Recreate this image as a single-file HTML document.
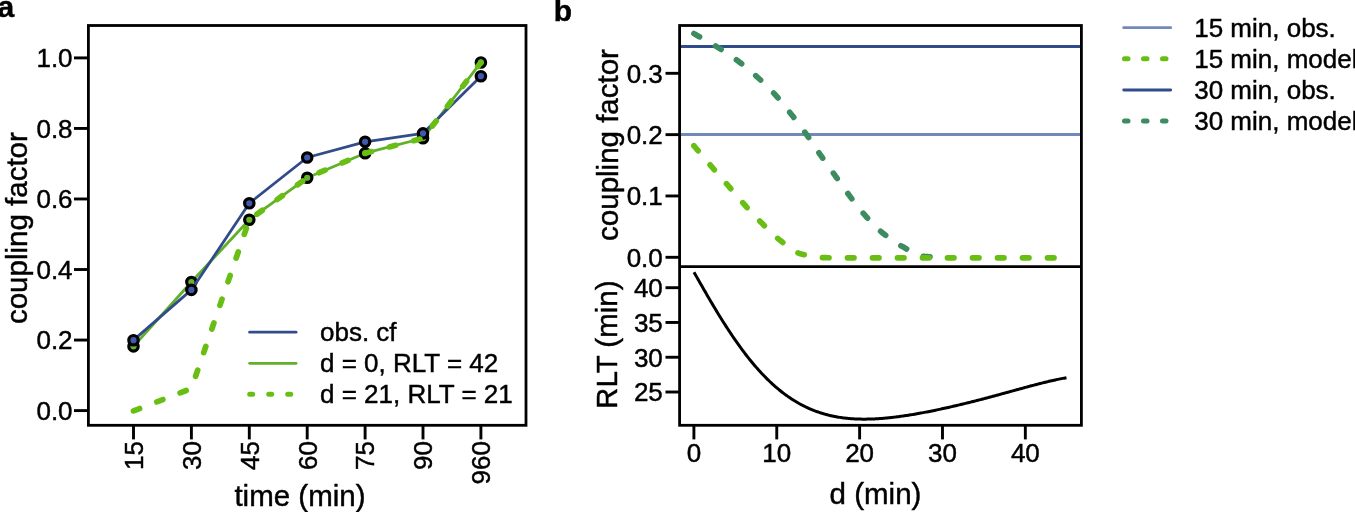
<!DOCTYPE html>
<html><head><meta charset="utf-8"><style>
html,body{margin:0;padding:0;background:#fff;}
body{width:1355px;height:512px;overflow:hidden;}
svg{display:block;will-change:transform;}
text{font-family:"Liberation Sans", sans-serif;fill:#000;stroke:#000;stroke-width:0.45px;}
</style></head><body>
<svg width="1355" height="512" viewBox="0 0 1355 512">
<text x="-2.6" y="17" font-size="30" font-weight="bold">a</text>
<text x="553.8" y="20.7" font-size="30" font-weight="bold">b</text>
<rect x="88.4" y="25.5" width="437.6" height="399.8" fill="none" stroke="#000" stroke-width="2.8"/>
<line x1="74" y1="57.90" x2="88.4" y2="57.90" stroke="#000" stroke-width="2.9"/>
<text x="72.6" y="67.00" font-size="26" text-anchor="end">1.0</text>
<line x1="74" y1="128.44" x2="88.4" y2="128.44" stroke="#000" stroke-width="2.9"/>
<text x="72.6" y="137.54" font-size="26" text-anchor="end">0.8</text>
<line x1="74" y1="198.98" x2="88.4" y2="198.98" stroke="#000" stroke-width="2.9"/>
<text x="72.6" y="208.08" font-size="26" text-anchor="end">0.6</text>
<line x1="74" y1="269.52" x2="88.4" y2="269.52" stroke="#000" stroke-width="2.9"/>
<text x="72.6" y="278.62" font-size="26" text-anchor="end">0.4</text>
<line x1="74" y1="340.06" x2="88.4" y2="340.06" stroke="#000" stroke-width="2.9"/>
<text x="72.6" y="349.16" font-size="26" text-anchor="end">0.2</text>
<line x1="74" y1="410.60" x2="88.4" y2="410.60" stroke="#000" stroke-width="2.9"/>
<text x="72.6" y="419.70" font-size="26" text-anchor="end">0.0</text>
<line x1="133.5" y1="425.3" x2="133.5" y2="439.4" stroke="#000" stroke-width="2.9"/>
<text transform="translate(142.80,441) rotate(-90)" font-size="26" text-anchor="end">15</text>
<line x1="191.4" y1="425.3" x2="191.4" y2="439.4" stroke="#000" stroke-width="2.9"/>
<text transform="translate(200.70,441) rotate(-90)" font-size="26" text-anchor="end">30</text>
<line x1="249.3" y1="425.3" x2="249.3" y2="439.4" stroke="#000" stroke-width="2.9"/>
<text transform="translate(258.60,441) rotate(-90)" font-size="26" text-anchor="end">45</text>
<line x1="307.2" y1="425.3" x2="307.2" y2="439.4" stroke="#000" stroke-width="2.9"/>
<text transform="translate(316.50,441) rotate(-90)" font-size="26" text-anchor="end">60</text>
<line x1="365.1" y1="425.3" x2="365.1" y2="439.4" stroke="#000" stroke-width="2.9"/>
<text transform="translate(374.40,441) rotate(-90)" font-size="26" text-anchor="end">75</text>
<line x1="423.0" y1="425.3" x2="423.0" y2="439.4" stroke="#000" stroke-width="2.9"/>
<text transform="translate(432.30,441) rotate(-90)" font-size="26" text-anchor="end">90</text>
<line x1="480.9" y1="425.3" x2="480.9" y2="439.4" stroke="#000" stroke-width="2.9"/>
<text transform="translate(490.20,441) rotate(-90)" font-size="26" text-anchor="end">960</text>
<text x="234.4" y="506" font-size="29.5">time (min)</text>
<text transform="translate(26.8,228.1) rotate(-90)" font-size="29.5" text-anchor="middle">coupling factor</text>
<path d="M133.50,346.36 L191.40,281.99 L249.30,219.74 L307.20,177.77 L365.10,153.22 L423.00,138.26 L480.90,62.43" fill="none" stroke="#61b02a" stroke-width="2.8" stroke-linejoin="round" stroke-linecap="round"/>
<circle cx="133.5" cy="346.36" r="4.7" fill="#64b52c" stroke="#000" stroke-width="3.2"/>
<circle cx="191.4" cy="281.99" r="4.7" fill="#64b52c" stroke="#000" stroke-width="3.2"/>
<circle cx="249.3" cy="219.74" r="4.7" fill="#64b52c" stroke="#000" stroke-width="3.2"/>
<circle cx="307.2" cy="177.77" r="4.7" fill="#64b52c" stroke="#000" stroke-width="3.2"/>
<circle cx="365.1" cy="153.22" r="4.7" fill="#64b52c" stroke="#000" stroke-width="3.2"/>
<circle cx="423.0" cy="138.26" r="4.7" fill="#64b52c" stroke="#000" stroke-width="3.2"/>
<circle cx="480.9" cy="62.43" r="4.7" fill="#64b52c" stroke="#000" stroke-width="3.2"/>
<path d="M133.50,340.18 L191.40,289.92 L249.30,203.30 L307.20,157.49 L365.10,141.79 L423.00,133.33 L480.90,76.19" fill="none" stroke="#324b8a" stroke-width="2.8" stroke-linejoin="round" stroke-linecap="round"/>
<circle cx="133.5" cy="340.18" r="4.7" fill="#4159ad" stroke="#000" stroke-width="3.2"/>
<circle cx="191.4" cy="289.92" r="4.7" fill="#4159ad" stroke="#000" stroke-width="3.2"/>
<circle cx="249.3" cy="203.30" r="4.7" fill="#4159ad" stroke="#000" stroke-width="3.2"/>
<circle cx="307.2" cy="157.49" r="4.7" fill="#4159ad" stroke="#000" stroke-width="3.2"/>
<circle cx="365.1" cy="141.79" r="4.7" fill="#4159ad" stroke="#000" stroke-width="3.2"/>
<circle cx="423.0" cy="133.33" r="4.7" fill="#4159ad" stroke="#000" stroke-width="3.2"/>
<circle cx="480.9" cy="76.19" r="4.7" fill="#4159ad" stroke="#000" stroke-width="3.2"/>
<path d="M133.50,410.90 L191.40,388.50 L249.30,219.74 L307.20,177.77 L365.10,153.22 L423.00,138.26 L480.90,62.43" fill="none" stroke="#68be12" stroke-width="5.7" stroke-dasharray="6.5 18.5" stroke-linejoin="round" stroke-linecap="round"/>
<line x1="249.6" y1="332.2" x2="296.1" y2="332.2" stroke="#324b8a" stroke-width="2.7" stroke-linecap="round"/>
<line x1="249.6" y1="363.3" x2="296.1" y2="363.3" stroke="#61b02a" stroke-width="2.7" stroke-linecap="round"/>
<line x1="249.7" y1="394.3" x2="297.4" y2="394.3" stroke="#68be12" stroke-width="5" stroke-dasharray="3 16" stroke-linecap="round"/>
<text x="320" y="341" font-size="26">obs. cf</text>
<text x="320" y="372" font-size="26">d = 0, RLT = 42</text>
<text x="320" y="403" font-size="26">d = 21, RLT = 21</text>
<line x1="679.6" y1="134.5" x2="1081.4" y2="134.5" stroke="#7289bb" stroke-width="2.8"/>
<line x1="679.6" y1="46.5" x2="1081.4" y2="46.5" stroke="#324b8a" stroke-width="2.8"/>
<path d="M693.90,33.60 L694.72,34.07 L695.55,34.55 L696.37,35.01 L697.19,35.48 L698.02,35.95 L698.84,36.41 L699.66,36.88 L700.48,37.34 L701.31,37.80 L702.13,38.26 L702.95,38.72 L703.78,39.19 L704.60,39.65 L705.42,40.11 L706.25,40.58 L707.07,41.04 L707.89,41.51 L708.72,41.98 L709.54,42.45 L710.36,42.92 L711.18,43.40 L712.01,43.88 L712.83,44.36 L713.65,44.85 L714.48,45.34 L715.30,45.83 L716.12,46.33 L716.95,46.84 L717.77,47.34 L718.59,47.86 L719.42,48.37 L720.24,48.89 L721.06,49.42 L721.88,49.94 L722.71,50.47 L723.53,51.00 L724.35,51.53 L725.18,52.07 L726.00,52.61 L726.82,53.16 L727.65,53.71 L728.47,54.26 L729.29,54.82 L730.12,55.38 L730.94,55.95 L731.76,56.52 L732.58,57.09 L733.41,57.67 L734.23,58.26 L735.05,58.85 L735.88,59.44 L736.70,60.04 L737.52,60.65 L738.35,61.26 L739.17,61.88 L739.99,62.50 L740.82,63.13 L741.64,63.77 L742.46,64.42 L743.28,65.07 L744.11,65.72 L744.93,66.39 L745.75,67.06 L746.58,67.73 L747.40,68.42 L748.22,69.10 L749.05,69.80 L749.87,70.49 L750.69,71.20 L751.52,71.91 L752.34,72.62 L753.16,73.34 L753.98,74.07 L754.81,74.79 L755.63,75.53 L756.45,76.27 L757.28,77.01 L758.10,77.75 L758.92,78.51 L759.75,79.26 L760.57,80.02 L761.39,80.79 L762.22,81.56 L763.04,82.34 L763.86,83.13 L764.68,83.92 L765.51,84.72 L766.33,85.53 L767.15,86.34 L767.98,87.16 L768.80,87.99 L769.62,88.82 L770.45,89.67 L771.27,90.52 L772.09,91.38 L772.92,92.25 L773.74,93.13 L774.56,94.01 L775.38,94.91 L776.21,95.82 L777.03,96.75 L777.85,97.69 L778.68,98.65 L779.50,99.61 L780.32,100.59 L781.15,101.58 L781.97,102.58 L782.79,103.58 L783.62,104.60 L784.44,105.62 L785.26,106.65 L786.08,107.68 L786.91,108.72 L787.73,109.76 L788.55,110.80 L789.38,111.84 L790.20,112.89 L791.02,113.93 L791.85,114.97 L792.67,116.02 L793.49,117.08 L794.32,118.14 L795.14,119.20 L795.96,120.27 L796.78,121.35 L797.61,122.43 L798.43,123.51 L799.25,124.60 L800.08,125.70 L800.90,126.80 L801.72,127.91 L802.55,129.03 L803.37,130.15 L804.19,131.28 L805.02,132.41 L805.84,133.55 L806.66,134.71 L807.48,135.88 L808.31,137.06 L809.13,138.25 L809.95,139.46 L810.78,140.67 L811.60,141.89 L812.42,143.11 L813.25,144.34 L814.07,145.57 L814.89,146.79 L815.72,148.02 L816.54,149.24 L817.36,150.46 L818.18,151.67 L819.01,152.87 L819.83,154.06 L820.65,155.24 L821.48,156.41 L822.30,157.58 L823.12,158.75 L823.95,159.91 L824.77,161.07 L825.59,162.23 L826.42,163.38 L827.24,164.54 L828.06,165.69 L828.88,166.84 L829.71,167.99 L830.53,169.14 L831.35,170.29 L832.18,171.44 L833.00,172.60 L833.82,173.75 L834.65,174.91 L835.47,176.07 L836.29,177.24 L837.12,178.41 L837.94,179.59 L838.76,180.76 L839.58,181.93 L840.41,183.11 L841.23,184.28 L842.05,185.45 L842.88,186.61 L843.70,187.77 L844.52,188.92 L845.35,190.06 L846.17,191.20 L846.99,192.33 L847.82,193.45 L848.64,194.55 L849.46,195.65 L850.28,196.75 L851.11,197.85 L851.93,198.95 L852.75,200.04 L853.58,201.13 L854.40,202.21 L855.22,203.29 L856.05,204.36 L856.87,205.43 L857.69,206.48 L858.52,207.52 L859.34,208.56 L860.16,209.58 L860.98,210.59 L861.81,211.58 L862.63,212.56 L863.45,213.53 L864.28,214.47 L865.10,215.41 L865.92,216.34 L866.75,217.27 L867.57,218.20 L868.39,219.11 L869.22,220.02 L870.04,220.92 L870.86,221.81 L871.68,222.69 L872.51,223.56 L873.33,224.41 L874.15,225.26 L874.98,226.08 L875.80,226.90 L876.62,227.69 L877.45,228.47 L878.27,229.23 L879.09,229.97 L879.92,230.69 L880.74,231.39 L881.56,232.07 L882.38,232.75 L883.21,233.43 L884.03,234.09 L884.85,234.75 L885.68,235.39 L886.50,236.03 L887.32,236.66 L888.15,237.28 L888.97,237.89 L889.79,238.50 L890.62,239.09 L891.44,239.67 L892.26,240.25 L893.08,240.82 L893.91,241.37 L894.73,241.92 L895.55,242.46 L896.38,242.98 L897.20,243.50 L898.02,244.01 L898.85,244.50 L899.67,244.99 L900.49,245.47 L901.32,245.93 L902.14,246.39 L902.96,246.85 L903.78,247.32 L904.61,247.79 L905.43,248.26 L906.25,248.74 L907.08,249.22 L907.90,249.69 L908.72,250.16 L909.55,250.63 L910.37,251.09 L911.19,251.55 L912.02,251.99 L912.84,252.42 L913.66,252.84 L914.48,253.24 L915.31,253.63 L916.13,254.00 L916.95,254.36 L917.78,254.69 L918.60,255.00 L919.42,255.28 L920.25,255.54 L921.07,255.77 L921.89,255.97 L922.72,256.15 L923.54,256.29 L924.36,256.40 L925.18,256.48 L926.01,256.56 L926.83,256.63 L927.65,256.70 L928.48,256.76 L929.30,256.81 L930.12,256.87 L930.95,256.91 L931.77,256.96 L932.59,257.01 L933.42,257.05 L934.24,257.09 L935.06,257.13 L935.88,257.17 L936.71,257.21 L937.53,257.26 L938.35,257.30 L939.18,257.35 L940.00,257.40" fill="none" stroke="#3c8c5f" stroke-width="5.7" stroke-dasharray="6.5 18.5" stroke-linejoin="round" stroke-linecap="round"/>
<path d="M693.90,145.80 L694.83,146.90 L695.77,148.00 L696.70,149.10 L697.64,150.20 L698.57,151.30 L699.50,152.40 L700.44,153.50 L701.37,154.60 L702.30,155.70 L703.24,156.80 L704.17,157.90 L705.11,159.00 L706.04,160.10 L706.97,161.19 L707.91,162.29 L708.84,163.38 L709.78,164.47 L710.71,165.56 L711.64,166.65 L712.58,167.74 L713.51,168.82 L714.44,169.90 L715.38,170.98 L716.31,172.05 L717.25,173.12 L718.18,174.19 L719.11,175.27 L720.05,176.33 L720.98,177.40 L721.92,178.47 L722.85,179.54 L723.78,180.61 L724.72,181.69 L725.65,182.76 L726.58,183.83 L727.52,184.91 L728.45,185.99 L729.39,187.08 L730.32,188.17 L731.25,189.27 L732.19,190.37 L733.12,191.47 L734.05,192.57 L734.99,193.68 L735.92,194.78 L736.86,195.88 L737.79,196.98 L738.72,198.07 L739.66,199.16 L740.59,200.25 L741.53,201.32 L742.46,202.39 L743.39,203.45 L744.33,204.50 L745.26,205.53 L746.19,206.57 L747.13,207.60 L748.06,208.62 L749.00,209.65 L749.93,210.66 L750.86,211.68 L751.80,212.68 L752.73,213.69 L753.67,214.68 L754.60,215.67 L755.53,216.66 L756.47,217.64 L757.40,218.61 L758.33,219.58 L759.27,220.54 L760.20,221.49 L761.14,222.43 L762.07,223.37 L763.00,224.31 L763.94,225.25 L764.87,226.19 L765.81,227.13 L766.74,228.07 L767.67,229.01 L768.61,229.94 L769.54,230.87 L770.47,231.79 L771.41,232.70 L772.34,233.59 L773.28,234.47 L774.21,235.34 L775.14,236.19 L776.08,237.02 L777.01,237.84 L777.95,238.63 L778.88,239.39 L779.81,240.13 L780.75,240.86 L781.68,241.60 L782.61,242.35 L783.55,243.09 L784.48,243.84 L785.42,244.59 L786.35,245.33 L787.28,246.06 L788.22,246.78 L789.15,247.49 L790.08,248.18 L791.02,248.84 L791.95,249.49 L792.89,250.10 L793.82,250.69 L794.75,251.24 L795.69,251.76 L796.62,252.24 L797.56,252.68 L798.49,253.07 L799.42,253.41 L800.36,253.71 L801.29,253.96 L802.22,254.20 L803.16,254.43 L804.09,254.67 L805.03,254.89 L805.96,255.12 L806.89,255.33 L807.83,255.54 L808.76,255.74 L809.70,255.94 L810.63,256.12 L811.56,256.30 L812.50,256.47 L813.43,256.63 L814.36,256.78 L815.30,256.92 L816.23,257.06 L817.17,257.18 L818.10,257.28 L819.03,257.38 L819.97,257.47 L820.90,257.54 L821.84,257.60 L822.77,257.65 L823.70,257.68 L824.64,257.70 L825.57,257.71 L826.50,257.72 L827.44,257.73 L828.37,257.74 L829.31,257.75 L830.24,257.76 L831.17,257.77 L832.11,257.77 L833.04,257.78 L833.98,257.79 L834.91,257.80 L835.84,257.80 L836.78,257.81 L837.71,257.81 L838.64,257.82 L839.58,257.82 L840.51,257.83 L841.45,257.83 L842.38,257.84 L843.31,257.84 L844.25,257.84 L845.18,257.84 L846.12,257.85 L847.05,257.85 L847.98,257.85 L848.92,257.85 L849.85,257.85 L850.78,257.85 L851.72,257.85 L852.65,257.85 L853.59,257.85 L854.52,257.85 L855.45,257.85 L856.39,257.85 L857.32,257.85 L858.25,257.85 L859.19,257.85 L860.12,257.85 L861.06,257.85 L861.99,257.85 L862.92,257.85 L863.86,257.85 L864.79,257.85 L865.73,257.85 L866.66,257.85 L867.59,257.85 L868.53,257.85 L869.46,257.85 L870.39,257.85 L871.33,257.85 L872.26,257.85 L873.20,257.85 L874.13,257.85 L875.06,257.85 L876.00,257.85 L876.93,257.85 L877.87,257.85 L878.80,257.85 L879.73,257.85 L880.67,257.85 L881.60,257.85 L882.53,257.85 L883.47,257.85 L884.40,257.85 L885.34,257.85 L886.27,257.85 L887.20,257.85 L888.14,257.85 L889.07,257.85 L890.01,257.85 L890.94,257.85 L891.87,257.85 L892.81,257.85 L893.74,257.85 L894.67,257.85 L895.61,257.85 L896.54,257.85 L897.48,257.85 L898.41,257.85 L899.34,257.85 L900.28,257.85 L901.21,257.85 L902.15,257.85 L903.08,257.85 L904.01,257.85 L904.95,257.85 L905.88,257.85 L906.81,257.85 L907.75,257.85 L908.68,257.85 L909.62,257.85 L910.55,257.85 L911.48,257.85 L912.42,257.85 L913.35,257.85 L914.28,257.85 L915.22,257.85 L916.15,257.85 L917.09,257.85 L918.02,257.85 L918.95,257.85 L919.89,257.85 L920.82,257.85 L921.76,257.85 L922.69,257.85 L923.62,257.85 L924.56,257.85 L925.49,257.85 L926.42,257.85 L927.36,257.85 L928.29,257.85 L929.23,257.85 L930.16,257.85 L931.09,257.85 L932.03,257.85 L932.96,257.85 L933.90,257.85 L934.83,257.85 L935.76,257.85 L936.70,257.85 L937.63,257.85 L938.56,257.85 L939.50,257.85 L940.43,257.85 L941.37,257.85 L942.30,257.85 L943.23,257.85 L944.17,257.85 L945.10,257.85 L946.04,257.85 L946.97,257.85 L947.90,257.85 L948.84,257.85 L949.77,257.85 L950.70,257.85 L951.64,257.85 L952.57,257.85 L953.51,257.85 L954.44,257.85 L955.37,257.85 L956.31,257.85 L957.24,257.85 L958.18,257.85 L959.11,257.85 L960.04,257.85 L960.98,257.85 L961.91,257.85 L962.84,257.85 L963.78,257.85 L964.71,257.85 L965.65,257.85 L966.58,257.85 L967.51,257.85 L968.45,257.85 L969.38,257.85 L970.32,257.85 L971.25,257.85 L972.18,257.85 L973.12,257.85 L974.05,257.85 L974.98,257.85 L975.92,257.85 L976.85,257.85 L977.79,257.85 L978.72,257.85 L979.65,257.85 L980.59,257.85 L981.52,257.85 L982.45,257.85 L983.39,257.85 L984.32,257.85 L985.26,257.85 L986.19,257.85 L987.12,257.85 L988.06,257.85 L988.99,257.85 L989.93,257.85 L990.86,257.85 L991.79,257.85 L992.73,257.85 L993.66,257.85 L994.59,257.85 L995.53,257.85 L996.46,257.85 L997.40,257.85 L998.33,257.85 L999.26,257.85 L1000.20,257.85 L1001.13,257.85 L1002.07,257.85 L1003.00,257.85 L1003.93,257.85 L1004.87,257.85 L1005.80,257.85 L1006.73,257.85 L1007.67,257.85 L1008.60,257.85 L1009.54,257.85 L1010.47,257.85 L1011.40,257.85 L1012.34,257.85 L1013.27,257.85 L1014.21,257.85 L1015.14,257.85 L1016.07,257.85 L1017.01,257.85 L1017.94,257.85 L1018.87,257.85 L1019.81,257.85 L1020.74,257.85 L1021.68,257.85 L1022.61,257.85 L1023.54,257.85 L1024.48,257.85 L1025.41,257.85 L1026.35,257.85 L1027.28,257.85 L1028.21,257.85 L1029.15,257.85 L1030.08,257.85 L1031.01,257.85 L1031.95,257.85 L1032.88,257.85 L1033.82,257.85 L1034.75,257.85 L1035.68,257.85 L1036.62,257.85 L1037.55,257.85 L1038.48,257.85 L1039.42,257.85 L1040.35,257.85 L1041.29,257.85 L1042.22,257.85 L1043.15,257.85 L1044.09,257.85 L1045.02,257.85 L1045.96,257.85 L1046.89,257.85 L1047.82,257.85 L1048.76,257.85 L1049.69,257.85 L1050.62,257.85 L1051.56,257.85 L1052.49,257.85 L1053.43,257.85 L1054.36,257.85 L1055.29,257.85 L1056.23,257.85 L1057.16,257.85 L1058.10,257.85 L1059.03,257.85 L1059.96,257.85 L1060.90,257.85 L1061.83,257.85 L1062.76,257.85 L1063.70,257.85 L1064.63,257.85 L1065.57,257.85 L1066.50,257.85" fill="none" stroke="#68be12" stroke-width="5.7" stroke-dasharray="6.5 18.5" stroke-linejoin="round" stroke-linecap="round"/>
<path d="M694.00,272.25 L695.25,274.44 L696.49,276.63 L697.74,278.82 L698.98,281.00 L700.23,283.18 L701.47,285.36 L702.72,287.53 L703.97,289.70 L705.21,291.85 L706.46,294.01 L707.70,296.15 L708.95,298.28 L710.20,300.41 L711.44,302.52 L712.69,304.62 L713.93,306.71 L715.18,308.79 L716.42,310.86 L717.67,312.91 L718.92,314.94 L720.16,316.96 L721.41,318.97 L722.65,320.96 L723.90,322.93 L725.15,324.89 L726.39,326.83 L727.64,328.75 L728.88,330.65 L730.13,332.54 L731.37,334.40 L732.62,336.25 L733.87,338.08 L735.11,339.89 L736.36,341.67 L737.60,343.44 L738.85,345.19 L740.10,346.91 L741.34,348.62 L742.59,350.30 L743.83,351.96 L745.08,353.60 L746.32,355.22 L747.57,356.82 L748.82,358.39 L750.06,359.94 L751.31,361.47 L752.55,362.98 L753.80,364.47 L755.05,365.93 L756.29,367.37 L757.54,368.79 L758.78,370.18 L760.03,371.56 L761.27,372.91 L762.52,374.24 L763.77,375.54 L765.01,376.82 L766.26,378.08 L767.50,379.32 L768.75,380.54 L769.99,381.73 L771.24,382.90 L772.49,384.05 L773.73,385.17 L774.98,386.28 L776.22,387.36 L777.47,388.42 L778.72,389.46 L779.96,390.48 L781.21,391.47 L782.45,392.45 L783.70,393.40 L784.94,394.33 L786.19,395.25 L787.44,396.14 L788.68,397.01 L789.93,397.86 L791.17,398.69 L792.42,399.49 L793.67,400.28 L794.91,401.05 L796.16,401.80 L797.40,402.54 L798.65,403.25 L799.89,403.94 L801.14,404.61 L802.39,405.27 L803.63,405.91 L804.88,406.53 L806.12,407.13 L807.37,407.71 L808.62,408.28 L809.86,408.83 L811.11,409.36 L812.35,409.87 L813.60,410.37 L814.84,410.85 L816.09,411.32 L817.34,411.77 L818.58,412.20 L819.83,412.62 L821.07,413.02 L822.32,413.41 L823.57,413.78 L824.81,414.14 L826.06,414.48 L827.30,414.81 L828.55,415.13 L829.79,415.43 L831.04,415.72 L832.29,415.99 L833.53,416.25 L834.78,416.50 L836.02,416.74 L837.27,416.96 L838.52,417.17 L839.76,417.37 L841.01,417.56 L842.25,417.74 L843.50,417.90 L844.74,418.05 L845.99,418.20 L847.24,418.33 L848.48,418.45 L849.73,418.56 L850.97,418.66 L852.22,418.75 L853.46,418.83 L854.71,418.90 L855.96,418.96 L857.20,419.01 L858.45,419.06 L859.69,419.09 L860.94,419.12 L862.19,419.13 L863.43,419.14 L864.68,419.14 L865.92,419.14 L867.17,419.12 L868.41,419.10 L869.66,419.07 L870.91,419.03 L872.15,418.99 L873.40,418.94 L874.64,418.88 L875.89,418.81 L877.14,418.74 L878.38,418.66 L879.63,418.58 L880.87,418.49 L882.12,418.39 L883.36,418.29 L884.61,418.18 L885.86,418.07 L887.10,417.95 L888.35,417.83 L889.59,417.70 L890.84,417.56 L892.09,417.42 L893.33,417.28 L894.58,417.13 L895.82,416.98 L897.07,416.82 L898.31,416.66 L899.56,416.49 L900.81,416.32 L902.05,416.14 L903.30,415.96 L904.54,415.78 L905.79,415.60 L907.04,415.41 L908.28,415.21 L909.53,415.01 L910.77,414.81 L912.02,414.61 L913.26,414.40 L914.51,414.19 L915.76,413.97 L917.00,413.76 L918.25,413.54 L919.49,413.31 L920.74,413.09 L921.98,412.86 L923.23,412.63 L924.48,412.39 L925.72,412.15 L926.97,411.91 L928.21,411.67 L929.46,411.42 L930.71,411.18 L931.95,410.93 L933.20,410.67 L934.44,410.42 L935.69,410.16 L936.93,409.90 L938.18,409.64 L939.43,409.37 L940.67,409.11 L941.92,408.84 L943.16,408.57 L944.41,408.29 L945.66,408.02 L946.90,407.74 L948.15,407.46 L949.39,407.18 L950.64,406.90 L951.88,406.61 L953.13,406.33 L954.38,406.04 L955.62,405.75 L956.87,405.45 L958.11,405.16 L959.36,404.86 L960.61,404.56 L961.85,404.26 L963.10,403.96 L964.34,403.66 L965.59,403.36 L966.83,403.05 L968.08,402.74 L969.33,402.43 L970.57,402.12 L971.82,401.81 L973.06,401.49 L974.31,401.18 L975.56,400.86 L976.80,400.54 L978.05,400.22 L979.29,399.90 L980.54,399.58 L981.78,399.25 L983.03,398.93 L984.28,398.60 L985.52,398.27 L986.77,397.94 L988.01,397.61 L989.26,397.28 L990.51,396.95 L991.75,396.61 L993.00,396.28 L994.24,395.94 L995.49,395.61 L996.73,395.27 L997.98,394.93 L999.23,394.59 L1000.47,394.25 L1001.72,393.91 L1002.96,393.57 L1004.21,393.23 L1005.45,392.89 L1006.70,392.55 L1007.95,392.20 L1009.19,391.86 L1010.44,391.52 L1011.68,391.17 L1012.93,390.83 L1014.18,390.49 L1015.42,390.15 L1016.67,389.80 L1017.91,389.46 L1019.16,389.12 L1020.40,388.78 L1021.65,388.44 L1022.90,388.10 L1024.14,387.76 L1025.39,387.42 L1026.63,387.08 L1027.88,386.74 L1029.13,386.41 L1030.37,386.07 L1031.62,385.74 L1032.86,385.41 L1034.11,385.08 L1035.35,384.76 L1036.60,384.43 L1037.85,384.11 L1039.09,383.79 L1040.34,383.47 L1041.58,383.16 L1042.83,382.85 L1044.08,382.54 L1045.32,382.23 L1046.57,381.93 L1047.81,381.63 L1049.06,381.33 L1050.30,381.04 L1051.55,380.76 L1052.80,380.47 L1054.04,380.19 L1055.29,379.92 L1056.53,379.65 L1057.78,379.39 L1059.03,379.13 L1060.27,378.88 L1061.52,378.63 L1062.76,378.39 L1064.01,378.16 L1065.25,377.93 L1066.50,377.71" fill="none" stroke="#000" stroke-width="3" stroke-linejoin="round" stroke-linecap="butt"/>
<rect x="679.6" y="25.5" width="401.8" height="399.8" fill="none" stroke="#000" stroke-width="2.8"/>
<line x1="679.6" y1="266.7" x2="1081.4" y2="266.7" stroke="#000" stroke-width="2.8"/>
<line x1="665.5" y1="73.31" x2="679.6" y2="73.31" stroke="#000" stroke-width="2.9"/>
<text x="662.8" y="82.61" font-size="26" text-anchor="end">0.3</text>
<line x1="665.5" y1="134.64" x2="679.6" y2="134.64" stroke="#000" stroke-width="2.9"/>
<text x="662.8" y="143.94" font-size="26" text-anchor="end">0.2</text>
<line x1="665.5" y1="195.97" x2="679.6" y2="195.97" stroke="#000" stroke-width="2.9"/>
<text x="662.8" y="205.27" font-size="26" text-anchor="end">0.1</text>
<line x1="665.5" y1="257.30" x2="679.6" y2="257.30" stroke="#000" stroke-width="2.9"/>
<text x="662.8" y="266.60" font-size="26" text-anchor="end">0.0</text>
<line x1="665.5" y1="287.70" x2="679.6" y2="287.70" stroke="#000" stroke-width="2.9"/>
<text x="662.8" y="297.00" font-size="26" text-anchor="end">40</text>
<line x1="665.5" y1="322.47" x2="679.6" y2="322.47" stroke="#000" stroke-width="2.9"/>
<text x="662.8" y="331.77" font-size="26" text-anchor="end">35</text>
<line x1="665.5" y1="357.24" x2="679.6" y2="357.24" stroke="#000" stroke-width="2.9"/>
<text x="662.8" y="366.54" font-size="26" text-anchor="end">30</text>
<line x1="665.5" y1="392.01" x2="679.6" y2="392.01" stroke="#000" stroke-width="2.9"/>
<text x="662.8" y="401.31" font-size="26" text-anchor="end">25</text>
<line x1="693.90" y1="425.3" x2="693.90" y2="439.4" stroke="#000" stroke-width="2.9"/>
<text x="693.90" y="461.5" font-size="26" text-anchor="middle">0</text>
<line x1="776.76" y1="425.3" x2="776.76" y2="439.4" stroke="#000" stroke-width="2.9"/>
<text x="776.76" y="461.5" font-size="26" text-anchor="middle">10</text>
<line x1="859.62" y1="425.3" x2="859.62" y2="439.4" stroke="#000" stroke-width="2.9"/>
<text x="859.62" y="461.5" font-size="26" text-anchor="middle">20</text>
<line x1="942.48" y1="425.3" x2="942.48" y2="439.4" stroke="#000" stroke-width="2.9"/>
<text x="942.48" y="461.5" font-size="26" text-anchor="middle">30</text>
<line x1="1025.34" y1="425.3" x2="1025.34" y2="439.4" stroke="#000" stroke-width="2.9"/>
<text x="1025.34" y="461.5" font-size="26" text-anchor="middle">40</text>
<text x="829.6" y="503.5" font-size="29.5">d (min)</text>
<text transform="translate(617.6,145.0) rotate(-90)" font-size="29.5" text-anchor="middle">coupling factor</text>
<text transform="translate(617.4,344.7) rotate(-90)" font-size="29.5" text-anchor="middle">RLT (min)</text>
<line x1="1123.7" y1="27.7" x2="1170.7" y2="27.7" stroke="#7289bb" stroke-width="2.8" stroke-linecap="round"/>
<line x1="1124.5" y1="58.8" x2="1171.9" y2="58.8" stroke="#68be12" stroke-width="5" stroke-dasharray="3.5 15.5" stroke-linecap="round"/>
<line x1="1123.7" y1="90" x2="1170.7" y2="90" stroke="#324b8a" stroke-width="2.8" stroke-linecap="round"/>
<line x1="1124.5" y1="121" x2="1171.9" y2="121" stroke="#3c8c5f" stroke-width="5" stroke-dasharray="3.5 15.5" stroke-linecap="round"/>
<text x="1194.2" y="36.7" font-size="26">15 min, obs.</text>
<text x="1194.2" y="67.9" font-size="26">15 min, model</text>
<text x="1194.2" y="98.9" font-size="26">30 min, obs.</text>
<text x="1194.2" y="129.9" font-size="26">30 min, model</text>
</svg>
</body></html>
